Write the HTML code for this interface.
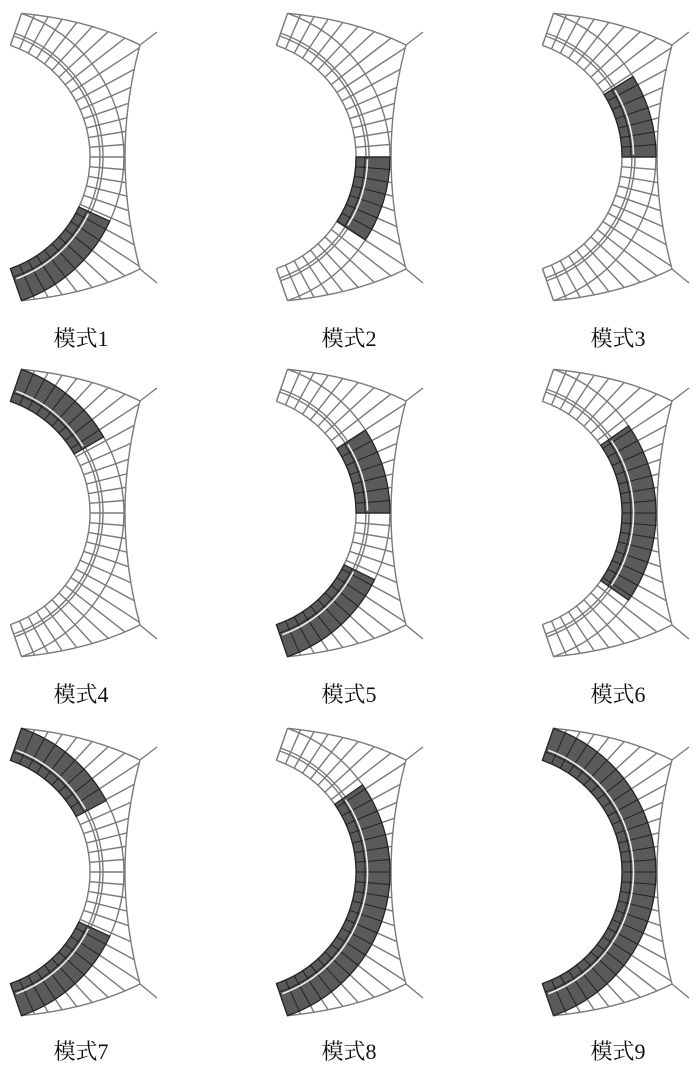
<!DOCTYPE html>
<html><head><meta charset="utf-8"><style>
html,body{margin:0;padding:0;background:#fff;width:695px;height:1074px;overflow:hidden}
svg{position:absolute;left:0;top:0}
.lbl{position:absolute;font-family:"Liberation Serif","Noto Serif CJK SC",serif;font-size:22px;color:#111;line-height:22px;height:22px;white-space:nowrap;transform:translateX(-50%)}
</style></head><body>
<svg id="s" width="695" height="1074" xmlns="http://www.w3.org/2000/svg"></svg>
<div class="lbl" style="left:81px;top:328px">模式1</div>
<div class="lbl" style="left:349px;top:328px">模式2</div>
<div class="lbl" style="left:618px;top:328px">模式3</div>
<div class="lbl" style="left:81px;top:684px">模式4</div>
<div class="lbl" style="left:349px;top:684px">模式5</div>
<div class="lbl" style="left:618px;top:684px">模式6</div>
<div class="lbl" style="left:81px;top:1041px">模式7</div>
<div class="lbl" style="left:349px;top:1041px">模式8</div>
<div class="lbl" style="left:618px;top:1041px">模式9</div>
<script>
var NS="http://www.w3.org/2000/svg",svg=document.getElementById('s');
var modes=[[[25,71]],[[0,33]],[[-32,0]],[[-71,-30]],[[-33,0],[26,71]],[[-35,35]],[[-71,-28],[25,71]],[[-35,71]],[[-71,71]]];
var cols=[0,266,532],rows=[0,356,715];
var CX=-28,CY=157,R0=118,R1=128,R2=131,R3=152,A=71,N=30;
function P(r,d){var a=d*Math.PI/180;return [CX+r*Math.cos(a),CY+r*Math.sin(a)];}
function f(p){return p[0].toFixed(1)+","+p[1].toFixed(1);}
function el(t,at,par){var e=document.createElementNS(NS,t);for(var k in at)e.setAttribute(k,at[k]);(par||svg).appendChild(e);return e;}
function arc(r,a1,a2){return "M"+f(P(r,a1))+" A"+r+","+r+" 0 0 1 "+f(P(r,a2));}
function sector(ra,rb,a1,a2){return "M"+f(P(ra,a1))+" A"+ra+","+ra+" 0 0 1 "+f(P(ra,a2))+" L"+f(P(rb,a2))+" A"+rb+","+rb+" 0 0 0 "+f(P(rb,a1))+" Z";}
var G="#7a7a7a";
for(var i=0;i<9;i++){
 var g=el('g',{transform:"translate("+cols[i%3]+","+rows[Math.floor(i/3)]+")"});
 var ot=P(R3,-A),ob=P(R3,A),it=P(R0,-A),ib=P(R0,A);
 var C1=[140,45],C2=[140,269];
 var clipd="M"+f(it)+" L"+f(ot)+" Q90,20 "+f(C1)+" Q110,157 "+f(C2)+" Q90,294 "+f(ob)+" L"+f(ib)+" A"+R0+","+R0+" 0 0 0 "+f(it)+" Z";
 var cp=el('clipPath',{id:"c"+i},g);el('path',{d:clipd},cp);
 var rg=el('g',{'clip-path':"url(#c"+i+")"},g);
 var step=2*A/N;
 for(var k=0;k<=N;k++){var d=-A+k*step;el('path',{d:"M"+f(P(R0,d))+" L"+f(P(330,d)),stroke:G,'stroke-width':1.4,fill:'none'},rg);}
 [R0,R1,R2,R3].forEach(function(r){el('path',{d:arc(r,-A,A),stroke:G,'stroke-width':1.4,fill:'none'},g);});
 el('path',{d:"M"+f(ot)+" Q90,20 "+f(C1)+" Q110,157 "+f(C2)+" Q90,294 "+f(ob),stroke:G,'stroke-width':1.4,fill:'none'},g);
 el('path',{d:"M"+f(it)+" L"+f(ot)+" M"+f(ib)+" L"+f(ob)+" M140,45 L157,32 M140,269 L157,283",stroke:G,'stroke-width':1.4,fill:'none'},g);
 modes[i].forEach(function(m){
  var a1=m[0],a2=m[1];
  el('path',{d:sector(R0,R3,a1,a2),fill:"#5a5a5a",stroke:"#222",'stroke-width':1.2},g);
  for(var k=0;k<=N;k++){var d=-A+k*step;if(d>a1+0.5&&d<a2-0.5)el('path',{d:"M"+f(P(R0,d))+" L"+f(P(R3,d)),stroke:"#222",'stroke-width':1},g);}
  el('path',{d:arc(R1-1,a1,a2),stroke:"#222",'stroke-width':1,fill:'none'},g);
  el('path',{d:arc((R1+R2)/2,a1+1,a2-1),stroke:"#eee",'stroke-width':1.6,fill:'none'},g);
 });
}
</script>
</body></html>
